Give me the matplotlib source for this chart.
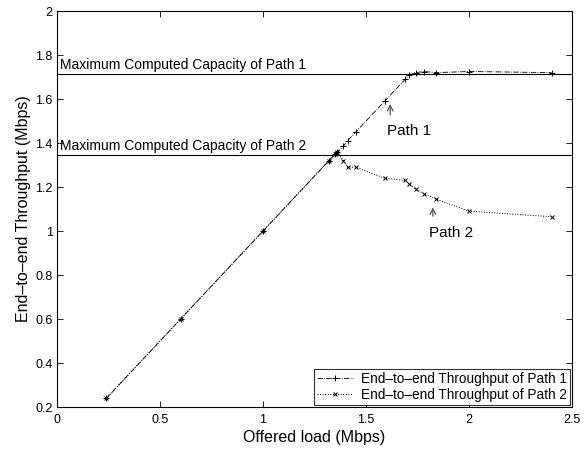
import matplotlib
matplotlib.use("Agg")
import matplotlib.pyplot as plt

plt.rcParams['font.family'] = ['Liberation Sans', 'DejaVu Sans']

offered_load = [0.24, 0.6, 1.0, 1.32, 1.35, 1.36, 1.39, 1.41, 1.45, 1.59, 1.69, 1.71, 1.74, 1.78, 1.84, 2.0, 2.4]
path1_tp = [0.24, 0.6, 1.0, 1.32, 1.35, 1.36, 1.385, 1.41, 1.45, 1.59, 1.69, 1.71, 1.72, 1.725, 1.72, 1.725, 1.72]
path2_tp = [0.24, 0.6, 1.0, 1.32, 1.35, 1.36, 1.32, 1.29, 1.29, 1.24, 1.23, 1.215, 1.19, 1.17, 1.145, 1.09, 1.065]
cap_path1 = 1.713
cap_path2 = 1.345

xticks = [0, 0.5, 1, 1.5, 2, 2.5]
yticks = [0.2, 0.4, 0.6, 0.8, 1, 1.2, 1.4, 1.6, 1.8, 2]

fig = plt.figure(figsize=(5.85, 4.53), dpi=100)
ax = fig.add_axes([0.0974, 0.1015, 0.8806, 0.8742])

ax.plot(offered_load, path1_tp, linestyle='-.', color='black', linewidth=0.6,
        marker='+', markersize=5, markeredgewidth=0.7,
        label='End\u2013to\u2013end Throughput of Path 1')
ax.plot(offered_load, path2_tp, linestyle=':', color='black', linewidth=0.7,
        marker='x', markersize=3.5, markeredgewidth=0.7,
        label='End\u2013to\u2013end Throughput of Path 2')

ax.axhline(cap_path1, color='black', linewidth=0.8)
ax.axhline(cap_path2, color='black', linewidth=0.8)

ax.text(0.015, cap_path1 + 0.01, 'Maximum Computed Capacity of Path 1', fontsize=10, va='bottom', ha='left')
ax.text(0.015, cap_path2 + 0.01, 'Maximum Computed Capacity of Path 2', fontsize=10, va='bottom', ha='left')

ax.annotate('', xy=(1.617, 1.59), xytext=(1.617, 1.515),
            arrowprops=dict(arrowstyle='->', color='#555555', lw=0.9))
ax.text(1.6, 1.455, 'Path 1', fontsize=11, ha='left', va='center')
ax.annotate('', xy=(1.824, 1.12), xytext=(1.824, 1.055),
            arrowprops=dict(arrowstyle='->', color='#555555', lw=0.9))
ax.text(1.806, 0.99, 'Path 2', fontsize=11, ha='left', va='center')

ax.set_xlim(0, 2.5)
ax.set_ylim(0.2, 2)
ax.set_xticks(xticks)
ax.set_xticklabels(['0', '0.5', '1', '1.5', '2', '2.5'])
ax.set_yticks(yticks)
ax.set_yticklabels(['0.2', '0.4', '0.6', '0.8', '1', '1.2', '1.4', '1.6', '1.8', '2'])
ax.tick_params(direction='in', top=True, right=True, labelsize=9, length=4, width=0.6)
ax.tick_params(axis='x', pad=5)
ax.tick_params(axis='y', pad=3)
for s in ax.spines.values():
    s.set_linewidth(0.8)

ax.set_xlabel('Offered load (Mbps)', fontsize=11.5, labelpad=3)
ax.set_ylabel('End\u2013to\u2013end Throughput (Mbps)', fontsize=11.5, labelpad=3)

leg = ax.legend(loc='lower right', fontsize=9.8, frameon=True, fancybox=False,
                edgecolor='black', borderaxespad=0.15, handlelength=2.6,
                borderpad=0.25, labelspacing=0.1, handletextpad=0.6)
leg.get_frame().set_linewidth(0.8)

fig.savefig('out.png', dpi=100)
